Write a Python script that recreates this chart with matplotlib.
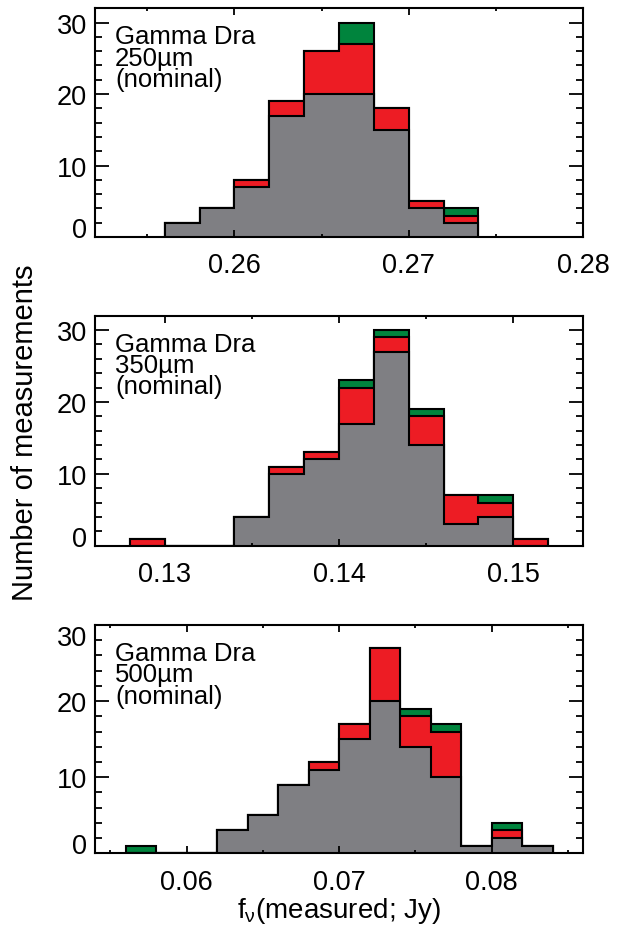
import numpy as np
import matplotlib
matplotlib.use('Agg')
import matplotlib.pyplot as plt
from matplotlib.ticker import MultipleLocator

plt.rcParams['font.family'] = ['Liberation Sans', 'DejaVu Sans']
plt.rcParams['mathtext.fontset'] = 'custom'
plt.rcParams['mathtext.rm'] = 'Liberation Sans'
plt.rcParams['mathtext.it'] = 'Liberation Sans:italic'

# --- data: counts per 0.002 Jy bin (gray = base, red / green stacked on top)
edges_250 = [0.256, 0.258, 0.260, 0.262, 0.264, 0.266, 0.268, 0.270, 0.272, 0.274]
gray_250 = [2, 4, 7, 17, 20, 20, 15, 4, 2]
red_250 = [0, 0, 1, 2, 6, 7, 3, 1, 1]
green_250 = [0, 0, 0, 0, 0, 3, 0, 0, 1]

edges_350 = [0.128, 0.130, 0.132, 0.134, 0.136, 0.138, 0.140, 0.142, 0.144,
             0.146, 0.148, 0.150, 0.152]
gray_350 = [0, 0, 0, 4, 10, 12, 17, 27, 14, 3, 4, 0]
red_350 = [1, 0, 0, 0, 1, 1, 5, 2, 4, 4, 2, 1]
green_350 = [0, 0, 0, 0, 0, 0, 1, 1, 1, 0, 1, 0]

edges_500 = [0.056, 0.058, 0.060, 0.062, 0.064, 0.066, 0.068, 0.070, 0.072,
             0.074, 0.076, 0.078, 0.080, 0.082, 0.084]
gray_500 = [0, 0, 0, 3, 5, 9, 11, 15, 20, 14, 10, 1, 2, 1]
red_500 = [0, 0, 0, 0, 0, 0, 1, 2, 7, 4, 6, 0, 1, 0]
green_500 = [1, 0, 0, 0, 0, 0, 0, 0, 0, 1, 1, 0, 1, 0]

bands = ['250\u00b5m', '350\u00b5m', '500\u00b5m']
xlims = [(0.252, 0.28), (0.126, 0.154), (0.054, 0.086)]
xticks = [[0.26, 0.27, 0.28], [0.13, 0.14, 0.15], [0.06, 0.07, 0.08]]
ymaxes = [32, 32, 30]

panels = [(edges_250, gray_250, red_250, green_250),
          (edges_350, gray_350, red_350, green_350),
          (edges_500, gray_500, red_500, green_500)]

c_gray = '#7f7f83'
c_red = '#ed1c24'
c_green = '#00843d'

W, H = 623, 928
fig = plt.figure(figsize=(W / 100, H / 100), dpi=100)

# axes boxes in pixels (top, bottom)
boxes = [(9.3, 238.0), (316.7, 546.7), (626.0, 854.3)]
left_px, right_px = 95, 583

for i, (edges, gray, red, green) in enumerate(panels):
    top, bot = boxes[i]
    ax = fig.add_axes([left_px / W, 1 - bot / H, (right_px - left_px) / W, (bot - top) / H])

    gray = np.array(gray)
    red = np.array(red)
    green = np.array(green)

    # draw cumulative layers from the top down
    ax.stairs(gray + red + green, edges, fill=True, facecolor=c_green,
              edgecolor='black', linewidth=1.5, baseline=0)
    ax.stairs(gray + red, edges, fill=True, facecolor=c_red,
              edgecolor='black', linewidth=1.5, baseline=0)
    ax.stairs(gray, edges, fill=True, facecolor=c_gray,
              edgecolor='black', linewidth=1.5, baseline=0)

    ax.set_xlim(*xlims[i])
    ax.set_ylim(0, ymaxes[i])
    ax.set_xticks(xticks[i])
    ax.set_xticklabels(['%.2f' % t for t in xticks[i]])
    ax.xaxis.set_minor_locator(MultipleLocator(0.005))
    ax.set_yticks([0, 10, 20, 30])
    ax.yaxis.set_minor_locator(MultipleLocator(2))

    ax.tick_params(which='both', direction='in', top=True, right=True,
                   width=1.3, labelsize=19.5)
    ax.tick_params(axis='y', which='major', length=10, pad=6)
    ax.tick_params(axis='y', which='minor', length=5)
    ax.tick_params(axis='x', which='major', length=4.7, pad=11)
    ax.tick_params(axis='x', which='minor', length=2.4)
    for sp in ax.spines.values():
        sp.set_linewidth(1.5)

    # IDL-style end labels pulled inside the axis range
    yt = ax.yaxis.get_major_ticks()
    yt[0].label1.set_verticalalignment('baseline')
    if ymaxes[i] == 30:
        yt[-1].label1.set_verticalalignment('top')

    ax.annotate('Gamma Dra\n' + bands[i] + '\n(nominal)', xy=(0, 1),
                xycoords='axes fraction', xytext=(20, -16),
                textcoords='offset pixels', ha='left', va='top',
                fontsize=18.5, linespacing=0.86)

fig.text(25 / W, 1 - 433 / H, 'Number of measurements', rotation=90,
         ha='center', va='center', fontsize=21)
fig.text(339 / W, 1 - 918 / H, r'f$_{\mathrm{\nu}}$(measured; Jy)',
         ha='center', va='baseline', fontsize=20)

fig.savefig('out.png', dpi=100)
